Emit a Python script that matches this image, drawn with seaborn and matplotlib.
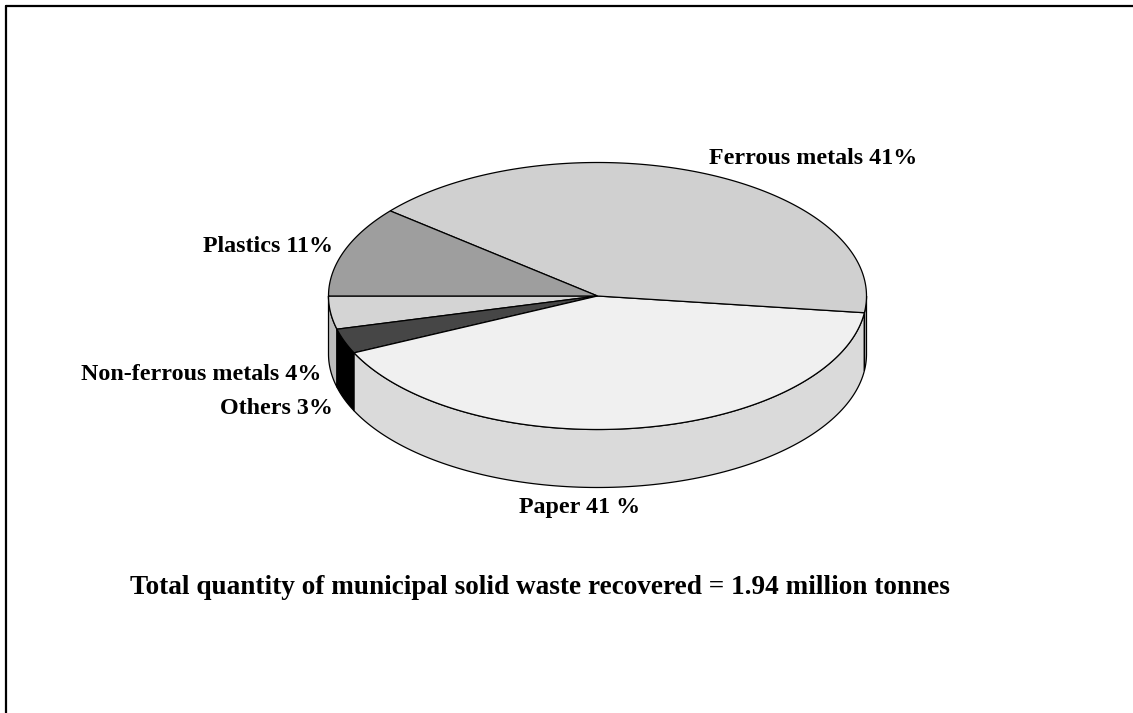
import numpy as np
import matplotlib
matplotlib.use("Agg")
import matplotlib.pyplot as plt
from matplotlib.patches import Polygon
from matplotlib.lines import Line2D
import seaborn as sns

sns.set_theme(style="white")
plt.rcParams["font.family"] = ["Liberation Serif", "DejaVu Serif"]

# Composition of recovered municipal solid waste (percent)
categories = ["Non-ferrous metals", "Others", "Paper", "Ferrous metals", "Plastics"]
values = [4, 3, 41, 41, 11]
labels = ["Non-ferrous metals 4%", "Others 3%", "Paper 41 %", "Ferrous metals 41%", "Plastics 11%"]
top_colors = ["#d4d4d4", "#464646", "#f0f0f0", "#d0d0d0", "#9e9e9e"]
side_colors = ["#bdbdbd", "#000000", "#dadada", "#a8a8a8", "#8a8a8a"]
start_angle = 180.0
footnote = "Total quantity of municipal solid waste recovered = 1.94 million tonnes"

W, H = 1133, 713
fig = plt.figure(figsize=(W / 100, H / 100), dpi=100)
ax = fig.add_axes([0, 0, 1, 1])
ax.set_xlim(0, W)
ax.set_ylim(H, 0)
ax.axis("off")

# ellipse geometry of the tilted disc (pixel space)
cx, cy, a, b, depth = 597.5, 296.0, 269.0, 133.5, 58.0


def pt(t_deg, dz=0.0):
    t = np.radians(t_deg)
    return cx + a * np.cos(t), cy - b * np.sin(t) + dz


fracs = np.array(values, dtype=float) / np.sum(values)
edges = start_angle + np.concatenate([[0], np.cumsum(fracs) * 360.0])

# front wall of the disc: visible between 180 and 360 degrees
for i in range(len(values)):
    t0, t1 = edges[i], edges[i + 1]
    lo, hi = max(t0, 180.0), min(t1, 360.0)
    if hi <= lo:
        continue
    ts = np.linspace(lo, hi, 120)
    top = [pt(t) for t in ts]
    bot = [pt(t, depth) for t in ts[::-1]]
    ax.add_patch(Polygon(top + bot, closed=True, facecolor=side_colors[i],
                         edgecolor="black", linewidth=0.9, zorder=2))

# top face wedges
for i in range(len(values)):
    t0, t1 = edges[i], edges[i + 1]
    ts = np.linspace(t0, t1, 300)
    poly = [(cx, cy)] + [pt(t) for t in ts]
    ax.add_patch(Polygon(poly, closed=True, facecolor=top_colors[i],
                         edgecolor="black", linewidth=0.9, zorder=3))

text_kw = dict(fontsize=17.3, fontweight="bold", color="black", zorder=5)
ax.text(709, 158, labels[3], ha="left", va="center", **text_kw)
ax.text(333, 247, labels[4], ha="right", va="center", **text_kw)
ax.text(321, 375, labels[0], ha="right", va="center", **text_kw)
ax.text(333, 408, labels[1], ha="right", va="center", **text_kw)
ax.text(580, 507, labels[2], ha="center", va="center", **text_kw)

ax.text(130, 587, footnote, ha="left", va="center", fontsize=19.6,
        fontweight="bold", color="black", zorder=5)

# page frame
fig.add_artist(Line2D([6 / W, 6 / W], [0, 1 - 6 / H], transform=fig.transFigure,
                      color="black", linewidth=1.6))
fig.add_artist(Line2D([6 / W, 1], [1 - 6 / H, 1 - 6 / H], transform=fig.transFigure,
                      color="black", linewidth=1.6))

fig.savefig("out.png", dpi=100, facecolor="white")
